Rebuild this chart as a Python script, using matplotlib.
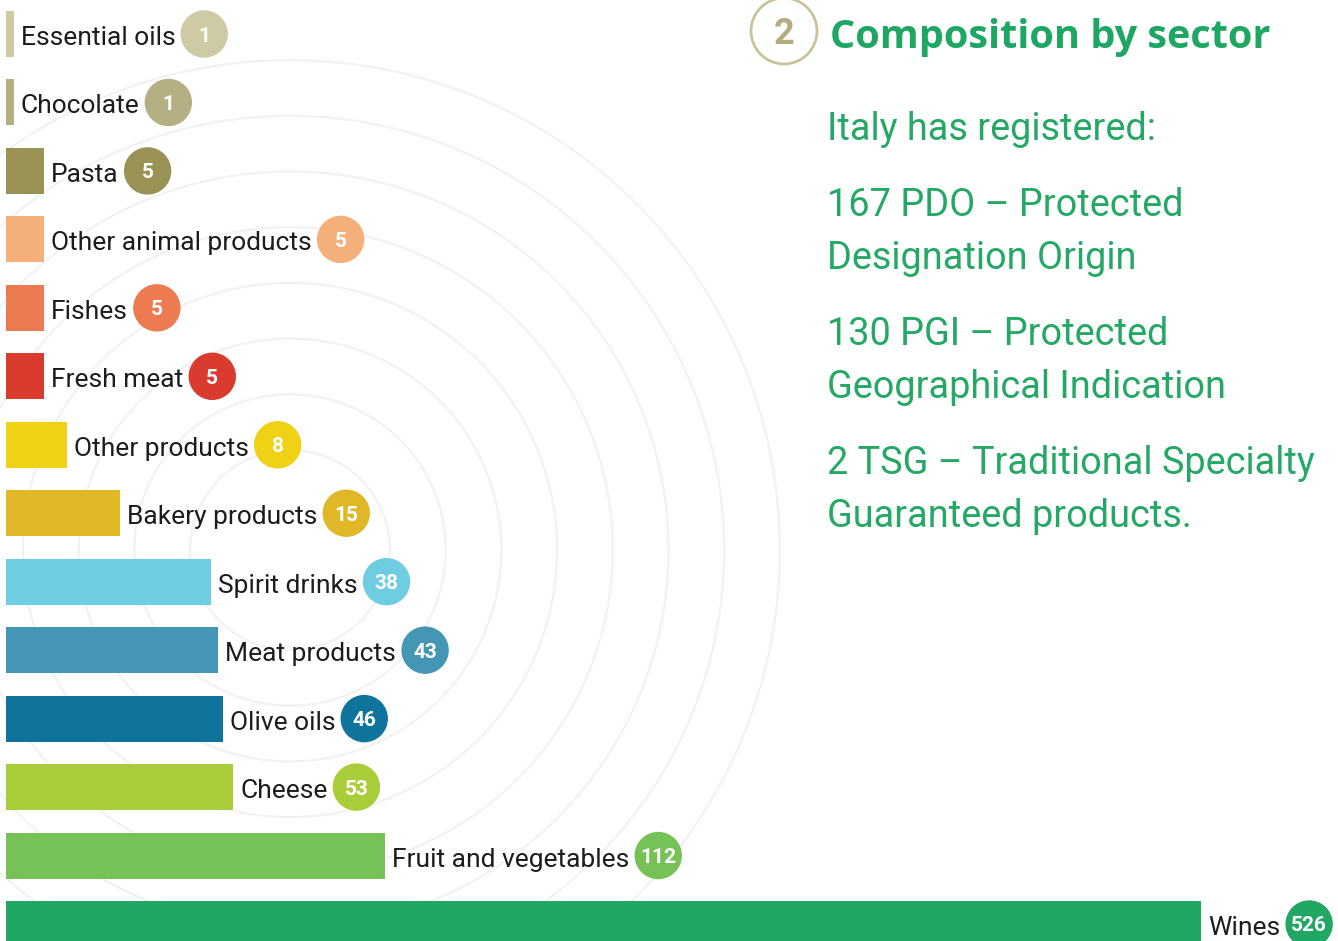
import numpy as np
import matplotlib.pyplot as plt
from matplotlib.patches import Circle

# Datos: denominaciones registradas por sector
categorias = ["Essential oils", "Chocolate", "Pasta", "Other animal products",
              "Fishes", "Fresh meat", "Other products", "Bakery products",
              "Spirit drinks", "Meat products", "Olive oils", "Cheese",
              "Fruit and vegetables", "Wines"]
valores = [1, 1, 5, 5, 5, 5, 8, 15, 38, 43, 46, 53, 112, 526]
colores = ["#cfcaa6", "#b5af84", "#9a9155", "#f4b07b", "#ec7b51", "#d93b2f",
           "#efd116", "#dfb727", "#6fcde1", "#4596b5", "#0f749c", "#a8cd38",
           "#77c257", "#21a664"]

titulo = "Composition by sector"
parrafos = [["Italy has registered:"],
            ["167 PDO \u2013 Protected", "Designation Origin"],
            ["130 PGI \u2013 Protected", "Geographical Indication"],
            ["2 TSG \u2013 Traditional Specialty", "Guaranteed products."]]

# Escala no lineal usada por el gráfico original (valor -> píxeles)
escala_val = [0, 15, 38, 53, 112, 526, 1000]
escala_px = [0, 114, 205, 227, 379, 1195, 2129]


def adelante(v):
    return np.interp(v, escala_val, escala_px)


def inversa(p):
    return np.interp(p, escala_px, escala_val)


W, H = 1338, 941
verde = "#25a866"
fuente = "Roboto"

fig = plt.figure(figsize=(W / 100, H / 100), dpi=100)

# Fondo: ejes en píxeles para los anillos y las etiquetas circulares
fondo = fig.add_axes([0, 0, 1, 1])
fondo.set_xlim(0, W)
fondo.set_ylim(H, 0)
fondo.axis("off")

centro = (290, 550)
for r in 100 + 55.7 * np.arange(8):
    fondo.add_patch(Circle(centro, r, fill=False, ec="#f0f2f3", lw=1.6, zorder=0))

# Barras
n = len(categorias)
paso = 68.46
ax = fig.add_axes([6 / W, 0, (W - 6) / W, 1])
ax.patch.set_alpha(0)
ax.axis("off")
ax.set_xscale("function", functions=(adelante, inversa))
ax.set_xlim(0, inversa(W - 6))
ax.set_ylim(n - 1 + (H - 924) / paso, -34 / paso)

ax.barh(range(n), valores, height=46 / paso, color=colores, zorder=2)

etiquetas = []
for i, (cat, v) in enumerate(zip(categorias, valores)):
    t = ax.annotate(cat, xy=(v, i), xytext=(7, -11), textcoords="offset pixels",
                    ha="left", va="baseline", fontsize=19, family=fuente,
                    color="#1c1c1c")
    etiquetas.append(t)

fig.canvas.draw()
rend = fig.canvas.get_renderer()
for i, (t, v, c) in enumerate(zip(etiquetas, valores, colores)):
    bb = t.get_window_extent(rend)
    cx = bb.x1 + 6 + 23
    cy = H - ax.transData.transform((v, i))[1]
    fondo.add_patch(Circle((cx, cy), 23, color=c, zorder=3))
    fondo.text(cx, cy + 7.5, str(v), ha="center", va="baseline", fontsize=15,
               fontweight="bold", family=fuente, color="white", zorder=4)

# Texto de la derecha
fondo.add_patch(Circle((784, 31), 33, fill=False, ec="#c9c39b", lw=2, zorder=3))
fondo.text(784, 44, "2", ha="center", va="baseline", fontsize=26,
           fontweight="bold", family=fuente, color="#b3ac80")
fondo.text(830, 48, titulo, ha="left", va="baseline", fontsize=28.5,
           fontweight="bold", family="Open Sans", color="#1ea663")

y = 140
for parr in parrafos:
    for linea in parr:
        fondo.text(827, y, linea, ha="left", va="baseline", fontsize=27.3,
                   family=fuente, color=verde)
        y += 53
    y += 23

fig.savefig("out.png", dpi=100)
